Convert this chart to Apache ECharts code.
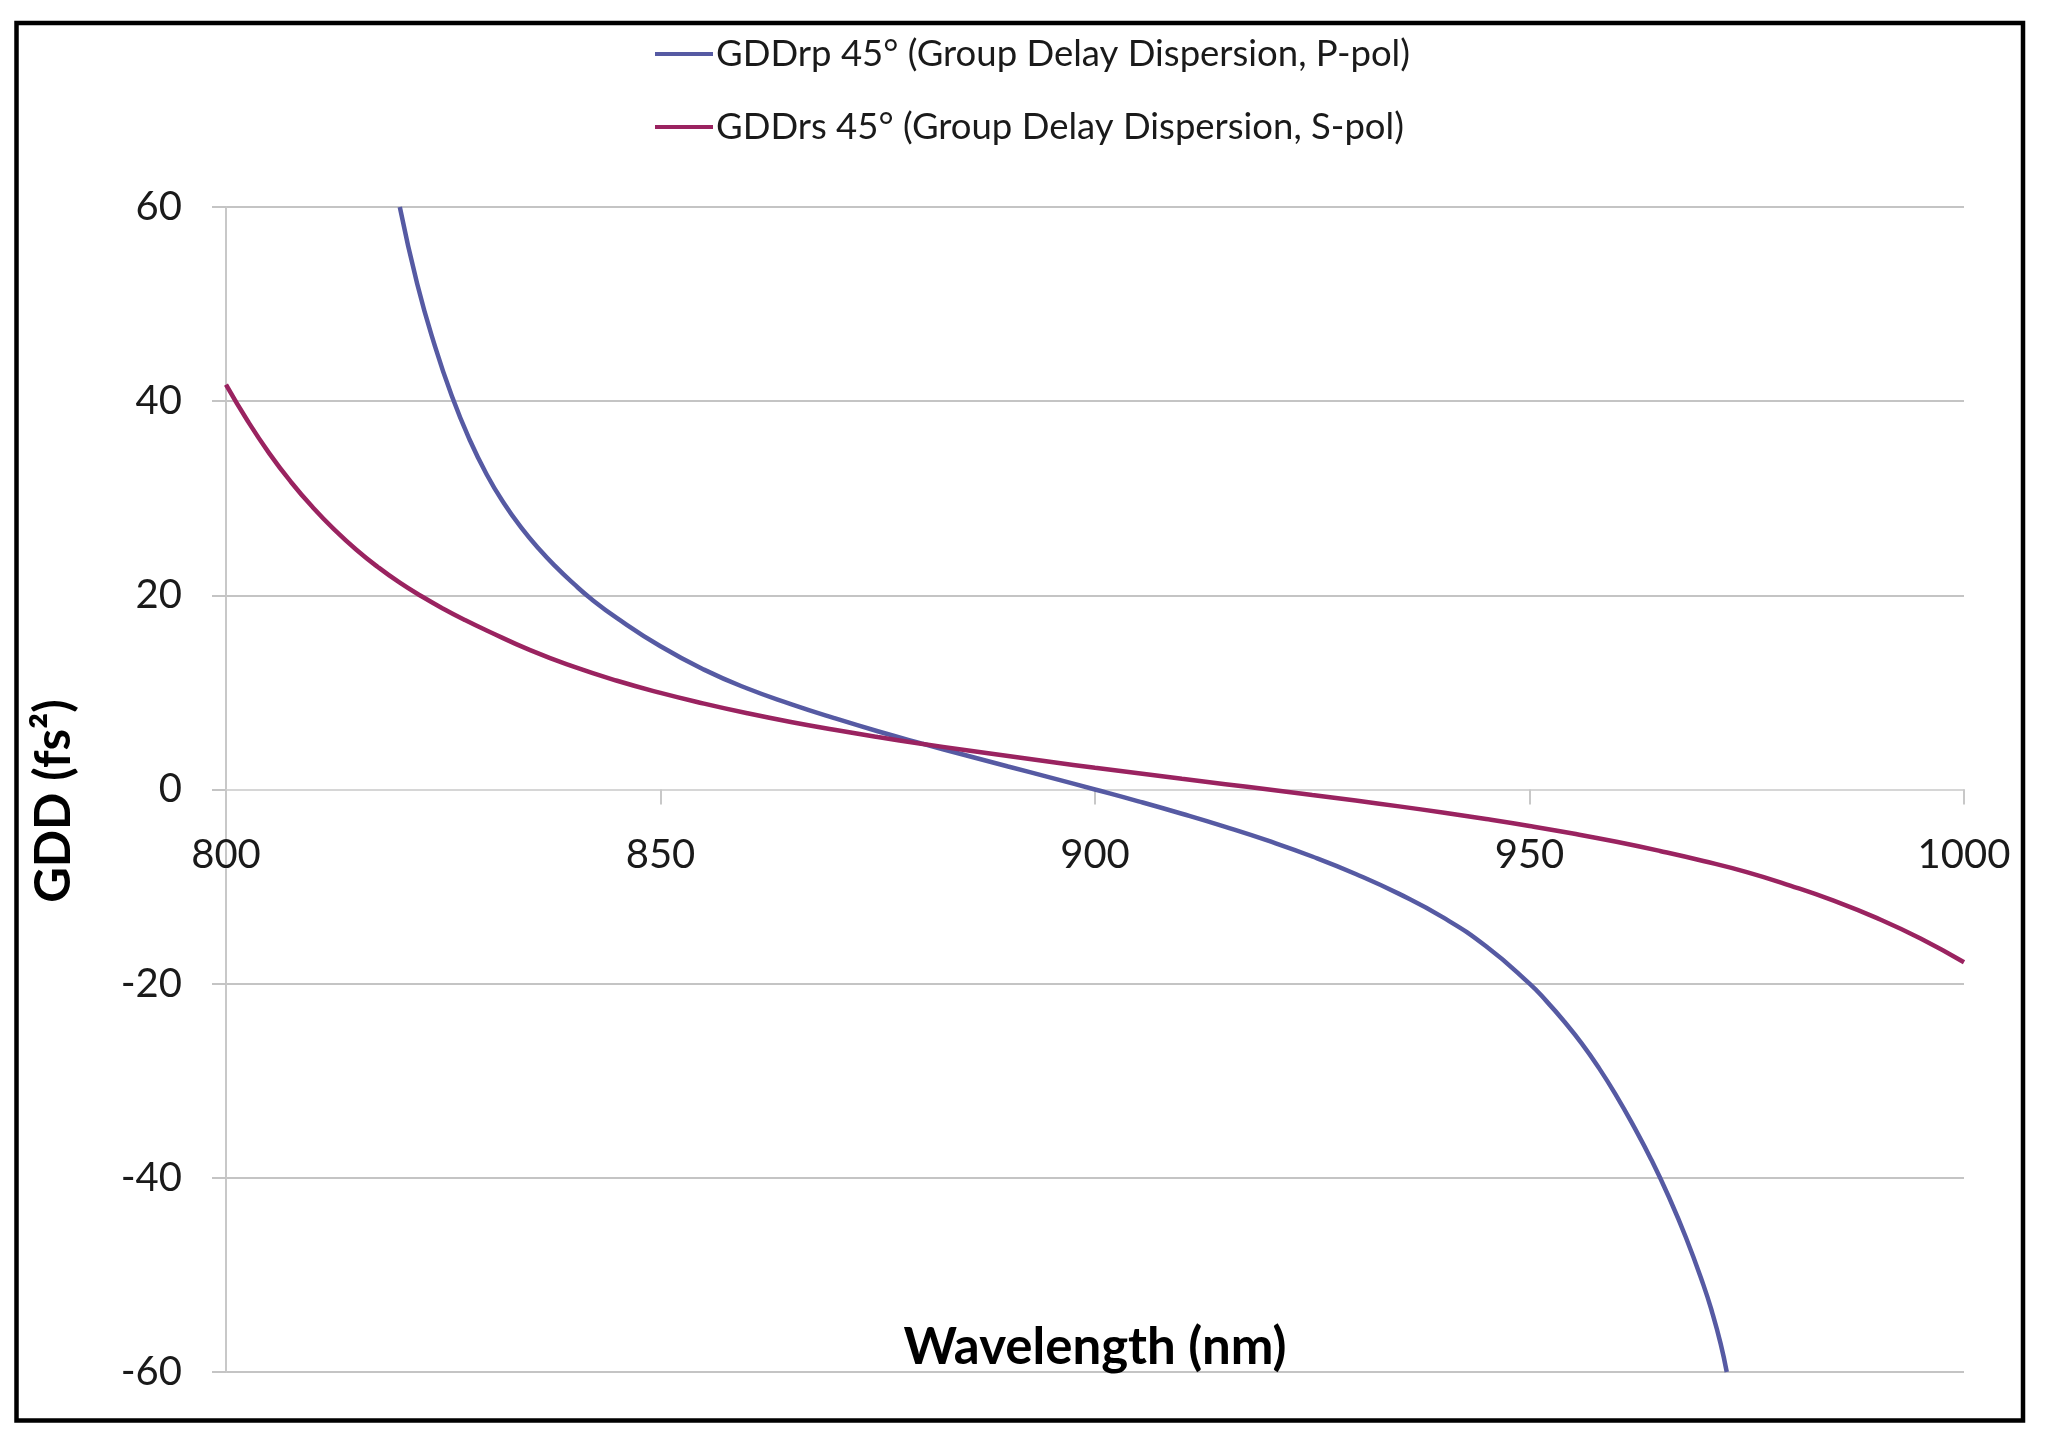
<!DOCTYPE html>
<html>
<head>
<meta charset="utf-8">
<style>
  html, body { margin: 0; padding: 0; background: #ffffff; }
  #chart { width: 2051px; height: 1441px; }
</style>
<script src="https://cdn.jsdelivr.net/npm/echarts@6/dist/echarts.min.js"></script>
</head>
<body>
<div id="chart"></div>
<script>
// ---- data ----
const pName = 'GDDrp 45° (Group Delay Dispersion, P-pol)';
const sName = 'GDDrs 45° (Group Delay Dispersion, S-pol)';

const pWavelength = [820, 822, 824, 826, 828, 830, 832, 834, 836, 838, 840, 842, 845, 850, 855, 860, 865, 870, 875, 880, 885, 890, 895, 900, 905, 910, 915, 920, 925, 930, 935, 940, 945, 950, 952, 954, 956, 958, 960, 962, 964, 966, 968, 970, 971, 972, 972.7];
const pGDD = [60, 52.1, 45.8, 40.5, 36.1, 32.45, 29.45, 26.95, 24.8, 22.9, 21.2, 19.65, 17.65, 14.75, 12.35, 10.4, 8.8, 7.35, 6.0, 4.75, 3.55, 2.37, 1.2, 0.0, -1.22, -2.5, -3.85, -5.3, -6.9, -8.7, -10.75, -13.15, -16.15, -20.0, -21.85, -23.9, -26.15, -28.7, -31.55, -34.7, -38.1, -41.9, -46.15, -51.0, -53.8, -57.1, -60];

const sWavelength = [800, 802.5, 805, 807.5, 810, 812.5, 815, 817.5, 820, 822.5, 825, 827.5, 830, 835, 840, 845, 850, 855, 860, 865, 870, 875, 880, 885, 890, 895, 900, 905, 910, 915, 920, 925, 930, 935, 940, 945, 950, 955, 960, 965, 970, 975, 980, 985, 990, 995, 1000];
const sGDD = [41.7, 37.95, 34.6, 31.65, 29.05, 26.75, 24.7, 22.9, 21.3, 19.9, 18.62, 17.45, 16.38, 14.35, 12.65, 11.2, 9.95, 8.85, 7.85, 6.95, 6.15, 5.41, 4.72, 4.07, 3.44, 2.83, 2.24, 1.67, 1.1, 0.55, 0.0, -0.57, -1.14, -1.74, -2.37, -3.04, -3.76, -4.54, -5.39, -6.33, -7.36, -8.51, -9.9, -11.45, -13.25, -15.35, -17.8];

const xTicks = { min: 800, max: 1000, interval: 50 };
const yTicks = { min: -60, max: 60, interval: 20 };

const xTitle = 'Wavelength (nm)';
const yTitle = 'GDD (fs²)';

// ---- chart ----
const pData = pWavelength.map((w, i) => [w, pGDD[i]]);
const sData = sWavelength.map((w, i) => [w, sGDD[i]]);

const W = 2051, H = 1441;
const gridBox = { left: 226, right: 87, top: 207, bottom: 69 };
const plotH = H - gridBox.top - gridBox.bottom;
// move the x axis (line, ticks, labels) up onto the y = 0 line
const zeroOffset = -plotH * (0 - yTicks.min) / (yTicks.max - yTicks.min);

const chart = echarts.init(document.getElementById('chart'), null, { renderer: 'canvas' });
const font = 'Lato, "Open Sans", sans-serif';
const gridGrey = '#c4c4c4';
const blue = '#565aa3';
const red = '#9a2360';

chart.setOption({
  backgroundColor: '#ffffff',
  animation: false,
  textStyle: { fontFamily: font },
  grid: Object.assign({ containLabel: false }, gridBox),
  legend: {
    orient: 'vertical',
    left: 650,
    top: 29,
    itemGap: 33,
    itemWidth: 58,
    itemHeight: 4,
    icon: 'rect',
    selectedMode: false,
    textStyle: { fontFamily: font, fontSize: 36.5, lineHeight: 40, color: '#1a1a1a', padding: [0, 0, 0, -2] },
    data: [pName, sName]
  },
  xAxis: {
    type: 'value',
    position: 'bottom',
    offset: zeroOffset,
    min: xTicks.min, max: xTicks.max, interval: xTicks.interval,
    axisLine: { show: true, onZero: false, lineStyle: { color: '#d6d6d6', width: 2 } },
    axisTick: { show: true, inside: false, length: 15, lineStyle: { color: '#c8c8c8', width: 2 } },
    axisLabel: { margin: 46, fontSize: 40, color: '#1a1a1a', fontFamily: font, formatter: v => String(v) },
    splitLine: { show: false }
  },
  yAxis: {
    type: 'value',
    min: yTicks.min, max: yTicks.max, interval: yTicks.interval,
    axisLine: { show: true, onZero: false, lineStyle: { color: '#c8c8c8', width: 2 } },
    axisTick: { show: true, inside: false, length: 14, lineStyle: { color: gridGrey, width: 2 } },
    axisLabel: { margin: 44, fontSize: 40, color: '#1a1a1a', fontFamily: font },
    splitLine: { show: true, lineStyle: { color: gridGrey, width: 2 } }
  },
  graphic: [
    {
      type: 'rect',
      shape: { x: 16.5, y: 23, width: 2006.5, height: 1397.5 },
      style: { fill: 'none', stroke: '#000000', lineWidth: 4.5 },
      silent: true, z: 100
    },
    {
      type: 'text',
      x: 1095, y: 1348,
      style: {
        text: xTitle,
        fontFamily: font, fontSize: 51, fontWeight: 'bold', fill: '#000000',
        textAlign: 'center', textVerticalAlign: 'middle'
      },
      silent: true, z: 100
    },
    {
      type: 'text',
      x: 54, y: 801,
      rotation: Math.PI / 2,
      style: {
        text: yTitle,
        fontFamily: font, fontSize: 49, fontWeight: 'bold', fill: '#000000',
        textAlign: 'center', textVerticalAlign: 'middle'
      },
      silent: true, z: 100
    }
  ],
  series: [
    {
      name: pName,
      type: 'line',
      data: pData,
      showSymbol: false,
      symbol: 'none',
      smooth: 0.5,
      clip: true,
      lineStyle: { color: blue, width: 4.5 },
      itemStyle: { color: blue }
    },
    {
      name: sName,
      type: 'line',
      data: sData,
      showSymbol: false,
      symbol: 'none',
      smooth: 0.5,
      clip: true,
      lineStyle: { color: red, width: 4.5 },
      itemStyle: { color: red }
    }
  ]
});
</script>
</body>
</html>
